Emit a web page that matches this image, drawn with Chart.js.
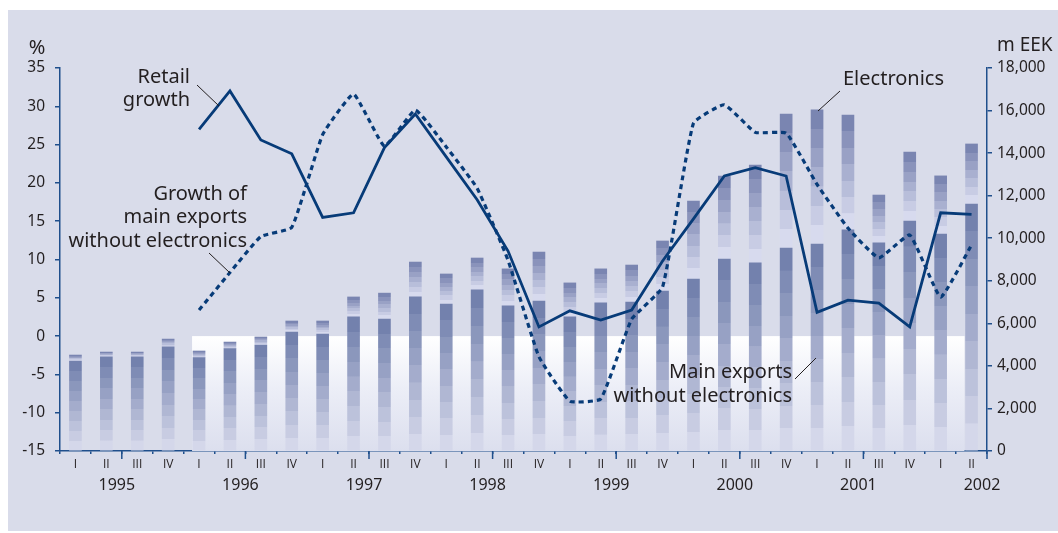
<!DOCTYPE html>
<html><head><meta charset="utf-8">
<script src="https://cdn.jsdelivr.net/npm/chart.js@4"></script>
<style>
html,body{margin:0;padding:0;background:#fff;}
canvas{display:block;}
</style></head><body>
<canvas id="c" width="1058" height="533"></canvas>
<script>
// ---- data ----
const quarters = ['I','II','III','IV','I','II','III','IV','I','II','III','IV','I','II','III','IV','I','II','III','IV','I','II','III','IV','I','II','III','IV','I','II'];
const years = ['1995','1996','1997','1998','1999','2000','2001','2002'];
// m EEK
const mainExports = [4230,4430,4430,4900,4390,4810,4980,5590,5500,6300,6200,7240,6910,7570,6820,7050,6300,6960,7000,7520,8080,9020,8840,9540,9730,10390,9780,10810,10200,11610];
const electronics = [280,220,220,360,310,310,380,520,610,940,1220,1640,1410,1500,1740,2300,1600,1600,1740,2350,3670,3900,4600,6300,6300,5400,2250,3240,2730,2820];
// %
const retailGrowth = [null,null,null,null,27.0,32.0,25.6,23.8,15.5,16.1,24.6,29.0,23.4,17.8,11.1,1.2,3.3,2.1,3.4,9.8,15.3,20.9,22.0,20.9,3.1,4.7,4.3,1.2,16.1,15.9];
const exportsGrowth = [null,null,null,null,3.4,8.3,13.0,14.2,26.3,31.6,24.8,29.5,24.7,19.3,9.9,-2.7,-8.5,-8.2,2.2,6.4,27.8,30.2,26.6,26.5,19.8,14.1,10.2,13.2,5.1,11.9];

// ---- styles ----
const BG = '#d9dcea';
const AXIS = '#1f4f8c';
const LINE = '#073b78';
const TEXT = '#231f20';
const FONT = '"Noto Sans", "Open Sans", sans-serif';
const QFONT = '"Open Sans", "Noto Sans", sans-serif';

function hex2rgb(h){h=h.replace('#','');return [parseInt(h.substr(0,2),16),parseInt(h.substr(2,2),16),parseInt(h.substr(4,2),16)];}
function mix(a,b,t){const A=hex2rgb(a),B=hex2rgb(b);return 'rgb('+A.map((v,i)=>Math.round(v+(B[i]-v)*t)).join(',')+')';}
function bandGradient(ctx, top, bottom, dark, light, n){
  if (!isFinite(top) || !isFinite(bottom) || Math.abs(bottom-top) < 0.5) return dark;
  const g = ctx.createLinearGradient(0, top, 0, bottom);
  for (let k=0;k<n;k++){
    const c = mix(dark, light, k/(n-1));
    g.addColorStop(k/n, c);
    g.addColorStop(Math.min(1,(k+1)/n - 0.0005), c);
  }
  return g;
}
function barFill(isTop){
  return function(c){
    const chart = c.chart, s = chart.scales && chart.scales.y2;
    const i = c.dataIndex;
    if (!s || i === undefined || s.getPixelForValue(0) === undefined) return '#7a86b0';
    const base = isTop ? mainExports[i] : 0;
    const top = base + (isTop ? electronics[i] : mainExports[i]);
    return isTop
      ? bandGradient(chart.ctx, s.getPixelForValue(top), s.getPixelForValue(base), '#7a85b1', '#d7daee', 7)
      : bandGradient(chart.ctx, s.getPixelForValue(top), s.getPixelForValue(base), '#7381ad', '#d4d7ea', 9);
  };
}

const decor = {
  id: 'decor',
  beforeDraw(chart){
    const ctx = chart.ctx;
    ctx.save();
    ctx.fillStyle = '#ffffff';
    ctx.fillRect(0,0,chart.width,chart.height);
    ctx.fillStyle = BG;
    ctx.fillRect(8,10,chart.width-8,chart.height-12);
    ctx.restore();
  },
  beforeDatasetsDraw(chart){
    const ctx = chart.ctx, x = chart.scales.x, y = chart.scales.y;
    const half = 7;
    const x0 = x.getPixelForValue(4) - half;
    const x1 = x.getPixelForValue(quarters.length-1) - half;
    const y0 = y.getPixelForValue(0), y1 = chart.chartArea.bottom;
    const g = ctx.createLinearGradient(0,y0,0,y1);
    g.addColorStop(0,'#ffffff');
    g.addColorStop(0.45,'#eceef7');
    g.addColorStop(1,'#dcdfee');
    ctx.save();
    ctx.fillStyle = g;
    ctx.fillRect(x0,y0,x1-x0,y1-y0);
    ctx.restore();
  },
  afterDraw(chart){
    const ctx = chart.ctx, x = chart.scales.x, ca = chart.chartArea;
    const step = (ca.right-ca.left)/quarters.length;
    ctx.save();
    // year ticks and labels
    ctx.strokeStyle = AXIS; ctx.lineWidth = 1.5;
    ctx.fillStyle = TEXT; ctx.font = '16px ' + FONT;
    ctx.textAlign = 'center'; ctx.textBaseline = 'alphabetic';
    years.forEach((yr, k) => {
      const idx = Math.min(k*4 + 2, quarters.length);
      const px = ca.left + step*idx;
      ctx.beginPath(); ctx.moveTo(px, ca.bottom); ctx.lineTo(px, ca.bottom+8); ctx.stroke();
      ctx.fillText(yr, px-5, 490);
    });
    // axis titles
    ctx.font = '20px ' + FONT; ctx.textAlign = 'center';
    ctx.fillText('%', 37, 54);
    ctx.font = '19px ' + FONT; ctx.textAlign = 'left';
    ctx.fillText('m EEK', 997, 51);
    // annotations
    ctx.font = '20px ' + FONT;
    ctx.textAlign = 'right';
    ctx.fillText('Retail', 190, 83);
    ctx.fillText('growth', 190, 106);
    ctx.fillText('Growth of', 247, 200);
    ctx.fillText('main exports', 247, 223);
    ctx.fillText('without electronics', 247, 247);
    ctx.fillText('Main exports', 792, 378);
    ctx.fillText('without electronics', 792, 402);
    ctx.textAlign = 'left';
    ctx.fillText('Electronics', 843, 85);
    // leader lines
    ctx.strokeStyle = TEXT; ctx.lineWidth = 1;
    [[197,85,219,106],[209,253,230,273],[840,91,818,111],[816,358,795,379]].forEach(l=>{
      ctx.beginPath(); ctx.moveTo(l[0],l[1]); ctx.lineTo(l[2],l[3]); ctx.stroke();
    });
    ctx.restore();
  }
};

const chart = new Chart(document.getElementById('c'), {
  data: {
    labels: quarters,
    datasets: [
      { type:'line', label:'Retail growth', data: retailGrowth, yAxisID:'y',
        borderColor: LINE, borderWidth: 2.8, pointRadius: 0, tension: 0, order: 0,
        borderJoinStyle: 'miter', spanGaps: false },
      { type:'line', label:'Growth of main exports without electronics', data: exportsGrowth, yAxisID:'y',
        borderColor: LINE, borderWidth: 3.2, borderDash: [5,4], pointRadius: 0, tension: 0.12, order: 1,
        borderJoinStyle: 'round', spanGaps: false },
      { type:'bar', label:'Main exports without electronics', data: mainExports, yAxisID:'y2', stack:'s',
        backgroundColor: barFill(false), borderWidth: 0, barThickness: 12, order: 2 },
      { type:'bar', label:'Electronics', data: electronics, yAxisID:'y2', stack:'s',
        backgroundColor: barFill(true), borderWidth: 0, barThickness: 12, order: 2 }
    ]
  },
  options: {
    responsive: false, animation: false, devicePixelRatio: 1,
    layout: { padding: { top: 68, left: 0, right: 0, bottom: 0 } },
    plugins: { legend: { display: false }, tooltip: { enabled: false } },
    scales: {
      x: {
        type: 'category', stacked: true, offset: true,
        grid: { offset: true, drawOnChartArea: false, drawTicks: true, tickLength: 3, color: AXIS, lineWidth: 1.5 },
        border: { color: AXIS, width: 1.5 },
        ticks: { color: TEXT, font: { family: QFONT, size: 12 }, padding: 3, maxRotation: 0, autoSkip: false },
        afterFit(s){ s.height = 82; }
      },
      y: {
        position: 'left', min: -15, max: 35,
        grid: { drawOnChartArea: false, tickLength: 5, color: AXIS, lineWidth: 1.5 },
        border: { color: AXIS, width: 1.5 },
        ticks: { stepSize: 5, color: TEXT, font: { family: FONT, size: 15.5 }, padding: 10 },
        afterFit(s){ s.width = 60; }
      },
      y2: {
        position: 'right', stacked: true, min: 0, max: 18000,
        grid: { drawOnChartArea: false, tickLength: 5, color: AXIS, lineWidth: 1.5 },
        border: { color: AXIS, width: 1.5 },
        ticks: { stepSize: 2000, color: TEXT, font: { family: FONT, size: 15.5 }, padding: 5 },
        afterFit(s){ s.width = 71; }
      }
    }
  },
  plugins: [decor]
});
</script>
</body></html>
